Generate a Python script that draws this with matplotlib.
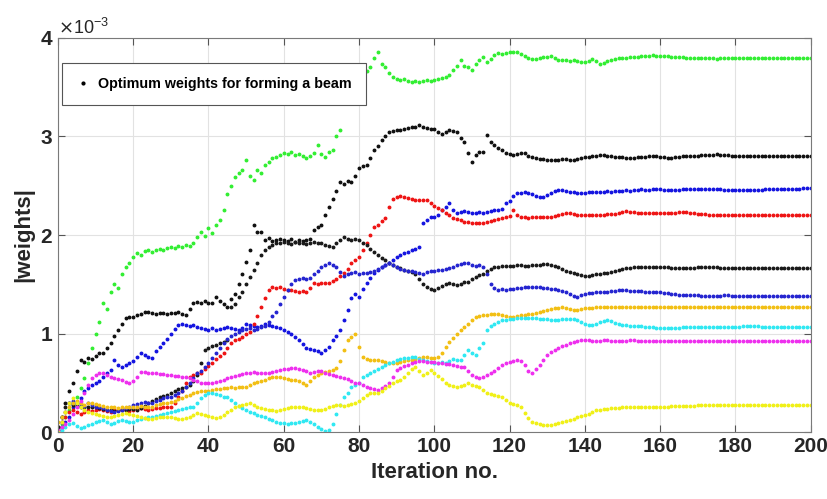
import numpy as np
import matplotlib.pyplot as plt

plt.rcParams['font.family'] = ['Liberation Sans', 'DejaVu Sans']

# |weights| per iteration (units of 1e-3), iterations 0..200
green = [0.02,0.08,0.15,0.22,0.29,0.36,0.45,0.55,0.7,0.85,
         1.0,1.12,1.31,1.25,1.42,1.5,1.46,1.6,1.68,1.72,
         1.78,1.82,1.8,1.84,1.85,1.83,1.85,1.86,1.85,1.87,
         1.88,1.87,1.89,1.88,1.9,1.89,1.92,1.98,2.03,1.99,
         2.07,2.02,2.1,2.15,2.25,2.42,2.5,2.59,2.63,2.66,
         2.76,2.6,2.56,2.66,2.63,2.71,2.74,2.78,2.79,2.81,
         2.83,2.82,2.84,2.81,2.82,2.8,2.78,2.8,2.83,2.91,
         2.82,2.79,2.84,2.86,3.0,3.07,3.34,3.4,3.45,3.5,
         3.55,3.62,3.66,3.7,3.8,3.86,3.74,3.7,3.64,3.6,
         3.58,3.57,3.58,3.56,3.55,3.56,3.55,3.56,3.57,3.56,
         3.57,3.58,3.59,3.6,3.62,3.67,3.72,3.78,3.72,3.7,
         3.67,3.74,3.78,3.81,3.76,3.79,3.83,3.85,3.84,3.85,
         3.86,3.86,3.86,3.84,3.82,3.8,3.79,3.79,3.8,3.81,
         3.81,3.82,3.8,3.78,3.78,3.78,3.77,3.78,3.77,3.76,
         3.76,3.77,3.79,3.77,3.74,3.75,3.77,3.78,3.79,3.8,
         3.8,3.8,3.81,3.81,3.81,3.82,3.82,3.82,3.83,3.82,
         3.82,3.82,3.82,3.81,3.81,3.81,3.81,3.8,3.8,3.8,
         3.8,3.8,3.8,3.8,3.8,3.79,3.8,3.8,3.8,3.8,
         3.8,3.8,3.8,3.8,3.8,3.8,3.8,3.8,3.8,3.8,
         3.8,3.8,3.8,3.8,3.8,3.8,3.8,3.8,3.8,3.8,3.8]

black1 = [0.05,0.15,0.3,0.42,0.5,0.62,0.73,0.71,0.75,0.74,
          0.77,0.8,0.8,0.85,0.9,0.98,1.04,1.1,1.16,1.17,
          1.17,1.19,1.2,1.22,1.22,1.21,1.2,1.21,1.21,1.2,
          1.21,1.21,1.22,1.2,1.19,1.25,1.31,1.32,1.31,1.33,
          1.31,1.31,1.37,1.33,1.3,1.27,1.35,1.4,1.5,1.6,
          1.73,1.85,2.1,2.03,2.03,1.95,1.97,1.94,1.95,1.96,
          1.95,1.94,1.96,1.93,1.95,1.94,1.95,1.96,2.05,2.08,
          2.1,2.2,2.28,2.37,2.45,2.54,2.52,2.55,2.54,2.6,
          2.68,2.7,2.71,2.78,2.86,2.9,2.96,3.0,3.05,3.06,
          3.07,3.07,3.08,3.09,3.1,3.1,3.12,3.1,3.09,3.08,
          3.08,3.05,3.03,3.05,3.07,3.06,3.05,2.98,2.94,2.83,
          2.74,2.81,2.84,2.84,3.02,2.94,2.91,2.88,2.86,2.83,
          2.82,2.81,2.82,2.83,2.83,2.8,2.79,2.78,2.77,2.77,
          2.76,2.76,2.76,2.76,2.77,2.77,2.76,2.76,2.77,2.78,
          2.79,2.79,2.8,2.8,2.81,2.81,2.8,2.8,2.79,2.79,
          2.79,2.78,2.78,2.78,2.79,2.79,2.79,2.8,2.8,2.8,
          2.79,2.79,2.78,2.78,2.79,2.79,2.8,2.8,2.8,2.8,
          2.8,2.81,2.81,2.81,2.81,2.82,2.81,2.81,2.81,2.8,
          2.8,2.8,2.8,2.8,2.8,2.8,2.8,2.8,2.8,2.8,
          2.8,2.8,2.8,2.8,2.8,2.8,2.8,2.8,2.8,2.8,2.8]

blue1 = [0.02,0.05,0.1,0.15,0.25,0.3,0.35,0.42,0.45,0.48,
         0.5,0.52,0.56,0.6,0.63,0.73,0.68,0.66,0.68,0.7,
         0.72,0.76,0.8,0.78,0.76,0.75,0.82,0.86,0.9,0.95,
         1.0,1.05,1.09,1.1,1.09,1.08,1.09,1.07,1.06,1.05,
         1.04,1.06,1.04,1.05,1.06,1.07,1.06,1.05,1.04,1.06,
         1.1,1.09,1.08,1.07,1.08,1.1,1.09,1.08,1.07,1.06,
         1.04,1.02,1.0,0.97,0.93,0.89,0.85,0.84,0.83,0.82,
         0.8,0.83,0.86,0.93,0.98,1.04,1.14,1.24,1.36,1.4,
         1.37,1.45,1.51,1.56,1.61,1.65,1.68,1.7,1.72,1.75,
         1.78,1.8,1.82,1.83,1.85,1.86,1.88,2.12,2.15,2.18,
         2.18,2.2,2.25,2.28,2.32,2.25,2.22,2.23,2.24,2.23,
         2.22,2.22,2.23,2.22,2.23,2.24,2.25,2.25,2.26,2.32,
         2.35,2.4,2.43,2.43,2.44,2.43,2.42,2.4,2.39,2.39,
         2.41,2.43,2.45,2.46,2.46,2.45,2.44,2.44,2.43,2.43,
         2.43,2.44,2.44,2.44,2.44,2.44,2.45,2.44,2.45,2.45,
         2.45,2.46,2.45,2.46,2.46,2.47,2.46,2.46,2.47,2.47,
         2.47,2.46,2.46,2.46,2.46,2.46,2.47,2.47,2.47,2.47,
         2.47,2.47,2.47,2.47,2.47,2.47,2.47,2.46,2.46,2.46,
         2.46,2.46,2.46,2.46,2.46,2.46,2.46,2.46,2.47,2.47,
         2.47,2.47,2.47,2.47,2.47,2.47,2.47,2.47,2.48,2.48,2.48]

red = [0.05,0.1,0.15,0.2,0.22,0.2,0.18,0.2,0.22,0.21,
       0.22,0.23,0.22,0.21,0.2,0.22,0.22,0.23,0.22,0.21,
       0.22,0.23,0.24,0.23,0.22,0.23,0.24,0.24,0.25,0.25,
       0.26,0.3,0.36,0.42,0.5,0.56,0.58,0.6,0.6,0.64,
       0.67,0.7,0.74,0.77,0.8,0.85,0.9,0.93,0.95,0.97,
       1.0,1.02,1.1,1.18,1.27,1.36,1.44,1.47,1.46,1.47,
       1.45,1.44,1.44,1.43,1.42,1.43,1.42,1.46,1.51,1.5,
       1.51,1.51,1.51,1.53,1.55,1.58,1.61,1.66,1.72,1.75,
       1.78,1.85,1.92,2.0,2.08,2.1,2.14,2.17,2.28,2.37,
       2.39,2.4,2.39,2.38,2.37,2.36,2.36,2.36,2.36,2.33,
       2.29,2.27,2.25,2.22,2.2,2.17,2.16,2.15,2.13,2.13,
       2.12,2.12,2.12,2.12,2.13,2.14,2.15,2.16,2.17,2.18,
       2.19,2.25,2.2,2.18,2.18,2.17,2.18,2.18,2.18,2.18,
       2.18,2.18,2.19,2.2,2.21,2.22,2.22,2.21,2.2,2.2,
       2.2,2.2,2.2,2.2,2.2,2.2,2.21,2.21,2.21,2.22,
       2.23,2.24,2.23,2.23,2.22,2.22,2.22,2.22,2.22,2.22,
       2.22,2.22,2.22,2.22,2.22,2.23,2.23,2.23,2.22,2.22,
       2.21,2.21,2.21,2.2,2.2,2.2,2.2,2.2,2.2,2.2,
       2.2,2.2,2.2,2.2,2.2,2.2,2.2,2.2,2.2,2.2,
       2.2,2.2,2.2,2.2,2.2,2.2,2.2,2.2,2.2,2.2,2.2]

black2 = [0.05,0.15,0.25,0.3,0.28,0.27,0.26,0.25,0.25,0.25,
          0.25,0.24,0.23,0.22,0.22,0.21,0.22,0.22,0.22,0.23,
          0.23,0.22,0.24,0.27,0.3,0.32,0.34,0.36,0.37,0.38,
          0.4,0.42,0.44,0.45,0.46,0.48,0.52,0.58,0.7,0.83,
          0.85,0.87,0.88,0.9,0.91,0.93,1.27,1.3,1.37,1.42,
          1.5,1.57,1.65,1.72,1.8,1.85,1.88,1.9,1.92,1.92,
          1.93,1.92,1.91,1.93,1.92,1.92,1.91,1.92,1.93,1.92,
          1.92,1.9,1.89,1.88,1.92,1.95,1.98,1.96,1.95,1.96,
          1.95,1.92,1.9,1.86,1.83,1.8,1.77,1.75,1.72,1.7,
          1.68,1.67,1.65,1.63,1.62,1.6,1.55,1.5,1.47,1.45,
          1.44,1.46,1.48,1.5,1.51,1.5,1.49,1.5,1.52,1.52,
          1.55,1.57,1.59,1.6,1.63,1.66,1.68,1.68,1.69,1.69,
          1.69,1.69,1.7,1.7,1.69,1.69,1.7,1.7,1.7,1.71,
          1.71,1.7,1.69,1.68,1.66,1.64,1.62,1.61,1.6,1.59,
          1.58,1.58,1.59,1.6,1.6,1.61,1.61,1.62,1.63,1.65,
          1.66,1.67,1.67,1.68,1.68,1.68,1.68,1.68,1.68,1.68,
          1.68,1.68,1.68,1.67,1.67,1.67,1.67,1.67,1.67,1.67,
          1.68,1.68,1.68,1.68,1.68,1.68,1.67,1.67,1.67,1.67,
          1.67,1.67,1.67,1.67,1.67,1.67,1.67,1.67,1.67,1.67,
          1.67,1.67,1.67,1.67,1.67,1.67,1.67,1.67,1.67,1.67,1.67]

blue2 = [0.02,0.1,0.2,0.3,0.32,0.3,0.28,0.27,0.3,0.28,
         0.26,0.25,0.24,0.22,0.21,0.2,0.21,0.22,0.24,0.26,
         0.28,0.29,0.3,0.31,0.3,0.3,0.32,0.33,0.35,0.36,
         0.36,0.38,0.4,0.42,0.46,0.5,0.55,0.6,0.62,0.66,
         0.7,0.75,0.8,0.85,0.9,0.95,0.98,1.0,1.02,1.04,
         1.05,1.06,1.04,1.05,1.07,1.08,1.12,1.18,1.22,1.3,
         1.37,1.44,1.5,1.54,1.55,1.56,1.55,1.56,1.6,1.64,
         1.68,1.7,1.72,1.7,1.68,1.62,1.58,1.6,1.61,1.62,
         1.6,1.61,1.61,1.62,1.64,1.66,1.68,1.7,1.72,1.7,
         1.68,1.66,1.65,1.64,1.63,1.62,1.61,1.6,1.62,1.63,
         1.64,1.65,1.65,1.66,1.67,1.68,1.7,1.71,1.72,1.72,
         1.7,1.69,1.7,1.68,1.6,1.5,1.46,1.44,1.45,1.44,
         1.45,1.45,1.46,1.46,1.47,1.47,1.47,1.47,1.47,1.46,
         1.46,1.45,1.45,1.44,1.43,1.42,1.4,1.38,1.37,1.39,
         1.4,1.41,1.41,1.42,1.42,1.42,1.42,1.43,1.43,1.44,
         1.44,1.44,1.43,1.43,1.43,1.43,1.42,1.42,1.42,1.42,
         1.42,1.41,1.41,1.4,1.4,1.39,1.39,1.39,1.39,1.39,
         1.39,1.38,1.38,1.38,1.38,1.38,1.38,1.39,1.39,1.38,
         1.38,1.38,1.38,1.38,1.38,1.38,1.38,1.38,1.38,1.38,
         1.38,1.38,1.38,1.38,1.38,1.38,1.38,1.38,1.38,1.38,1.38]

gold = [0.1,0.15,0.2,0.25,0.3,0.32,0.3,0.28,0.3,0.3,
        0.29,0.28,0.27,0.26,0.25,0.25,0.24,0.25,0.26,0.25,
        0.25,0.26,0.27,0.26,0.25,0.26,0.28,0.29,0.3,0.3,
        0.31,0.32,0.34,0.35,0.37,0.38,0.4,0.41,0.42,0.42,
        0.42,0.43,0.44,0.44,0.45,0.45,0.46,0.45,0.46,0.46,
        0.46,0.48,0.5,0.51,0.52,0.53,0.55,0.56,0.56,0.56,
        0.55,0.54,0.53,0.53,0.52,0.5,0.48,0.52,0.56,0.58,
        0.6,0.61,0.62,0.63,0.65,0.72,0.83,0.93,0.97,1.0,
        0.86,0.76,0.74,0.73,0.73,0.73,0.72,0.71,0.7,0.7,
        0.7,0.71,0.72,0.73,0.73,0.74,0.75,0.76,0.76,0.75,
        0.75,0.76,0.8,0.86,0.91,0.96,1.0,1.04,1.07,1.1,
        1.14,1.17,1.18,1.19,1.19,1.2,1.2,1.2,1.19,1.18,
        1.17,1.17,1.18,1.19,1.19,1.2,1.2,1.21,1.22,1.23,
        1.24,1.25,1.26,1.26,1.27,1.26,1.25,1.24,1.24,1.25,
        1.26,1.26,1.26,1.27,1.27,1.27,1.27,1.27,1.27,1.27,
        1.27,1.27,1.27,1.27,1.27,1.27,1.27,1.27,1.27,1.27,
        1.27,1.27,1.27,1.27,1.27,1.27,1.27,1.27,1.27,1.27,
        1.27,1.27,1.27,1.27,1.27,1.27,1.27,1.27,1.27,1.27,
        1.27,1.27,1.27,1.27,1.27,1.27,1.27,1.27,1.27,1.27,
        1.27,1.27,1.27,1.27,1.27,1.27,1.27,1.27,1.27,1.27,1.27]

cyan = [0.0,0.02,0.05,0.08,0.09,0.06,0.04,0.05,0.07,0.08,
        0.1,0.11,0.12,0.1,0.08,0.09,0.11,0.12,0.11,0.1,
        0.1,0.12,0.13,0.14,0.15,0.15,0.16,0.17,0.18,0.19,
        0.2,0.21,0.22,0.23,0.24,0.25,0.26,0.3,0.35,0.38,
        0.4,0.4,0.39,0.38,0.36,0.36,0.33,0.3,0.27,0.24,
        0.22,0.2,0.19,0.17,0.16,0.15,0.13,0.12,0.1,0.09,
        0.09,0.08,0.09,0.09,0.1,0.11,0.12,0.1,0.08,0.05,
        0.03,0.01,0.02,0.08,0.18,0.28,0.36,0.4,0.46,0.48,
        0.5,0.56,0.58,0.6,0.62,0.64,0.66,0.68,0.7,0.71,
        0.73,0.74,0.75,0.75,0.76,0.76,0.74,0.73,0.72,0.71,
        0.7,0.7,0.71,0.7,0.72,0.74,0.73,0.73,0.78,0.83,
        0.8,0.78,0.85,0.9,1.04,1.08,1.1,1.12,1.14,1.14,
        1.15,1.15,1.16,1.16,1.16,1.16,1.16,1.16,1.15,1.15,
        1.15,1.14,1.14,1.14,1.15,1.15,1.15,1.15,1.14,1.12,
        1.1,1.09,1.09,1.1,1.12,1.13,1.14,1.13,1.11,1.1,
        1.09,1.09,1.08,1.08,1.08,1.08,1.07,1.07,1.07,1.06,
        1.06,1.06,1.06,1.06,1.06,1.06,1.07,1.07,1.07,1.07,
        1.07,1.07,1.07,1.07,1.07,1.07,1.07,1.07,1.07,1.07,
        1.07,1.07,1.08,1.08,1.08,1.08,1.08,1.07,1.07,1.07,
        1.07,1.07,1.07,1.07,1.07,1.07,1.07,1.07,1.07,1.07,1.07]

magenta = [0.02,0.05,0.08,0.12,0.18,0.25,0.32,0.4,0.48,0.55,
           0.58,0.6,0.6,0.58,0.56,0.55,0.54,0.53,0.51,0.5,
           0.52,0.56,0.61,0.61,0.6,0.6,0.6,0.59,0.59,0.58,
           0.58,0.57,0.57,0.56,0.56,0.55,0.53,0.52,0.5,0.5,
           0.5,0.5,0.51,0.52,0.53,0.55,0.56,0.57,0.58,0.59,
           0.6,0.6,0.61,0.6,0.6,0.6,0.6,0.61,0.62,0.63,
           0.64,0.64,0.65,0.65,0.64,0.63,0.62,0.6,0.61,0.62,
           0.62,0.6,0.59,0.58,0.57,0.56,0.55,0.54,0.52,0.5,
           0.5,0.48,0.46,0.45,0.44,0.43,0.45,0.47,0.5,0.56,
           0.63,0.65,0.67,0.68,0.7,0.71,0.72,0.72,0.71,0.71,
           0.71,0.7,0.7,0.69,0.69,0.68,0.67,0.66,0.66,0.62,
           0.58,0.56,0.55,0.56,0.58,0.6,0.62,0.65,0.68,0.7,
           0.71,0.72,0.73,0.72,0.68,0.62,0.6,0.64,0.68,0.73,
           0.78,0.81,0.83,0.85,0.87,0.88,0.9,0.91,0.92,0.93,
           0.93,0.93,0.92,0.92,0.92,0.93,0.93,0.92,0.92,0.92,
           0.92,0.92,0.93,0.93,0.92,0.92,0.92,0.92,0.92,0.92,
           0.92,0.92,0.92,0.92,0.92,0.92,0.92,0.92,0.92,0.92,
           0.92,0.92,0.92,0.92,0.92,0.92,0.92,0.92,0.92,0.92,
           0.92,0.92,0.92,0.92,0.92,0.92,0.92,0.92,0.92,0.92,
           0.92,0.92,0.92,0.92,0.92,0.92,0.92,0.92,0.92,0.92,0.92]

yellow = [0.0,0.1,0.2,0.3,0.35,0.3,0.25,0.22,0.2,0.19,
          0.18,0.17,0.16,0.15,0.15,0.16,0.17,0.18,0.19,0.18,
          0.17,0.16,0.15,0.14,0.13,0.13,0.14,0.15,0.15,0.15,
          0.15,0.14,0.13,0.13,0.14,0.15,0.17,0.19,0.18,0.17,
          0.16,0.15,0.14,0.15,0.17,0.2,0.22,0.25,0.27,0.28,
          0.29,0.3,0.28,0.26,0.24,0.23,0.22,0.22,0.21,0.22,
          0.23,0.24,0.25,0.25,0.25,0.25,0.24,0.23,0.22,0.22,
          0.22,0.23,0.25,0.27,0.28,0.28,0.27,0.28,0.29,0.3,
          0.32,0.35,0.38,0.4,0.4,0.4,0.42,0.45,0.47,0.5,
          0.52,0.53,0.56,0.6,0.64,0.66,0.62,0.58,0.6,0.63,
          0.6,0.57,0.54,0.5,0.48,0.47,0.46,0.47,0.48,0.5,
          0.48,0.47,0.46,0.43,0.4,0.39,0.38,0.37,0.36,0.33,
          0.3,0.29,0.28,0.25,0.19,0.14,0.1,0.09,0.08,0.07,
          0.07,0.07,0.08,0.09,0.1,0.11,0.12,0.13,0.15,0.16,
          0.17,0.18,0.2,0.22,0.22,0.23,0.23,0.24,0.24,0.24,
          0.25,0.25,0.25,0.25,0.25,0.26,0.26,0.26,0.26,0.26,
          0.26,0.26,0.26,0.27,0.27,0.27,0.27,0.27,0.27,0.27,
          0.28,0.28,0.28,0.28,0.28,0.28,0.28,0.28,0.28,0.28,
          0.28,0.28,0.28,0.28,0.28,0.28,0.28,0.28,0.28,0.28,
          0.28,0.28,0.28,0.28,0.28,0.28,0.28,0.28,0.28,0.28,0.28]

series = [
    (green, '#33ee33'), (black1, '#111111'), (blue1, '#1515e0'),
    (red, '#ee1515'), (black2, '#1a1a1a'), (blue2, '#2525d0'),
    (gold, '#f2bf14'), (cyan, '#30e8f2'), (magenta, '#ee30ee'),
    (yellow, '#f0f018'),
]

fig = plt.figure(figsize=(8.28, 4.99), dpi=100)
ax = fig.add_axes([0.070, 0.134, 0.909, 0.790])

for vals, col in series:
    v = np.array(vals) * 1e-3
    it = np.arange(len(v))
    ax.plot(it, v, linestyle='none', marker='.', markersize=3.6, color=col)

ax.plot([], [], linestyle='none', marker='.', markersize=4, color='k',
        label='Optimum weights for forming a beam')

ax.set_xlim(0, 200)
ax.set_ylim(0, 4e-3)
ax.set_xticks(np.arange(0, 201, 20))
ax.set_yticks(np.arange(0, 5) * 1e-3)
ax.ticklabel_format(axis='y', style='sci', scilimits=(0, 0), useMathText=True)
ax.yaxis.get_offset_text().set_fontsize(13)
ax.yaxis.get_offset_text().set_color('#333333')

ax.grid(True, color='#e2e2e2', linewidth=0.8)
ax.set_axisbelow(True)
for s in ax.spines.values():
    s.set_color('#7a7a7a')
    s.set_linewidth(0.8)
ax.tick_params(direction='in', top=True, right=True, length=5, width=0.8,
               color='#555555', labelsize=15, labelcolor='#262626')
for lb in ax.get_xticklabels() + ax.get_yticklabels():
    lb.set_fontweight('bold')

ax.set_xlabel('Iteration no.', fontsize=16, fontweight='bold', color='#262626')
ax.set_ylabel('|weights|', fontsize=16, fontweight='bold', color='#262626')

leg = ax.legend(loc='upper left', bbox_to_anchor=(0.006, 0.937), fancybox=False,
                framealpha=1, edgecolor='#555555', handlelength=0.8,
                handletextpad=0.7, prop={'size': 10.3, 'weight': 'bold'},
                borderpad=1.0, borderaxespad=0)
leg.get_frame().set_linewidth(0.8)

fig.savefig('out.png', dpi=100)
